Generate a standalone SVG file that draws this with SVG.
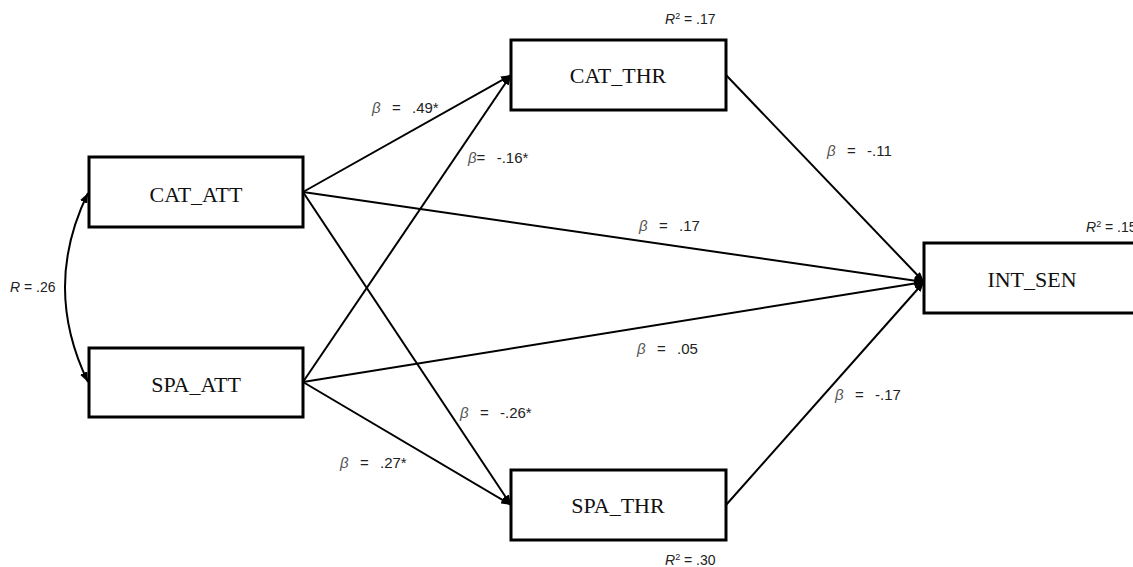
<svg xmlns="http://www.w3.org/2000/svg" width="1133" height="567" viewBox="0 0 1133 567">
<style>
.box{fill:#fff;stroke:#000;stroke-width:3}
.nl{font-family:"Liberation Serif",serif;font-size:22px;fill:#111;text-anchor:middle}
.lb{font-family:"Liberation Sans",Arial,sans-serif;font-size:15px;fill:#222;white-space:pre;word-spacing:1.5px}
.rl{font-family:"Liberation Sans",Arial,sans-serif;font-size:14px;fill:#222;white-space:pre}
.it{font-style:italic;fill:#555}
.ir{font-style:italic}
.c{fill:none;stroke:#000;stroke-width:2}
</style>
<defs>
<marker id="ah" markerUnits="userSpaceOnUse" viewBox="0 0 10 8" refX="10" refY="4" markerWidth="10" markerHeight="8" orient="auto-start-reverse">
<path d="M0,0 L10,4 L0,8 Z" fill="#000"/>
</marker>
</defs>
<rect width="1133" height="567" fill="#fff"/>
<g id="connectors">
<line class="c" x1="303" y1="192" x2="511" y2="75" marker-end="url(#ah)"/>
<line class="c" x1="303" y1="382" x2="511" y2="75" marker-end="url(#ah)"/>
<line class="c" x1="303" y1="192" x2="924" y2="282" marker-end="url(#ah)"/>
<line class="c" x1="303" y1="382" x2="924" y2="282" marker-end="url(#ah)"/>
<line class="c" x1="303" y1="192" x2="511" y2="505" marker-end="url(#ah)"/>
<line class="c" x1="303" y1="382" x2="511" y2="505" marker-end="url(#ah)"/>
<line class="c" x1="726" y1="75" x2="924" y2="282" marker-end="url(#ah)"/>
<line class="c" x1="726" y1="505" x2="924" y2="282" marker-end="url(#ah)"/>
<path class="c" d="M88,193 Q42,287 88,382" marker-start="url(#ah)" marker-end="url(#ah)"/>
</g>
<g id="CAT_ATT"><rect class="box" x="89" y="157" width="214" height="70"/><text class="nl" x="196" y="202">CAT_ATT</text></g>
<g id="SPA_ATT"><rect class="box" x="89" y="348" width="214" height="69"/><text class="nl" x="196" y="392">SPA_ATT</text></g>
<g id="CAT_THR"><rect class="box" x="511" y="40" width="215" height="70"/><text class="nl" x="618" y="83">CAT_THR</text></g>
<g id="SPA_THR"><rect class="box" x="511" y="470" width="215" height="70"/><text class="nl" x="618" y="513">SPA_THR</text></g>
<g id="INT_SEN"><rect class="box" x="924" y="243" width="216" height="70"/><text class="nl" x="1032" y="287">INT_SEN</text></g>
<g id="labels">
<text class="lb" x="372" y="113"><tspan class="it">β</tspan>  =  .49*</text>
<text class="lb" x="468" y="163"><tspan class="it">β</tspan>=  -.16*</text>
<text class="lb" x="827" y="156"><tspan class="it">β</tspan>  =  -.11</text>
<text class="lb" x="639" y="231"><tspan class="it">β</tspan>  =  .17</text>
<text class="lb" x="637" y="354"><tspan class="it">β</tspan>  =  .05</text>
<text class="lb" x="835" y="400"><tspan class="it">β</tspan>  =  -.17</text>
<text class="lb" x="460" y="418"><tspan class="it">β</tspan>  =  -.26*</text>
<text class="lb" x="340" y="468"><tspan class="it">β</tspan>  =  .27*</text>
<text class="rl" x="10" y="292"><tspan class="ir">R</tspan> = .26</text>
<text class="rl" x="665" y="24"><tspan class="ir">R</tspan><tspan font-size="9" dy="-5">2</tspan><tspan dy="5"> = .17</tspan></text>
<text class="rl" x="1086" y="232"><tspan class="ir">R</tspan><tspan font-size="9" dy="-5">2</tspan><tspan dy="5"> = .15</tspan></text>
<text class="rl" x="665" y="565"><tspan class="ir">R</tspan><tspan font-size="9" dy="-5">2</tspan><tspan dy="5"> = .30</tspan></text>
</g>
</svg>
